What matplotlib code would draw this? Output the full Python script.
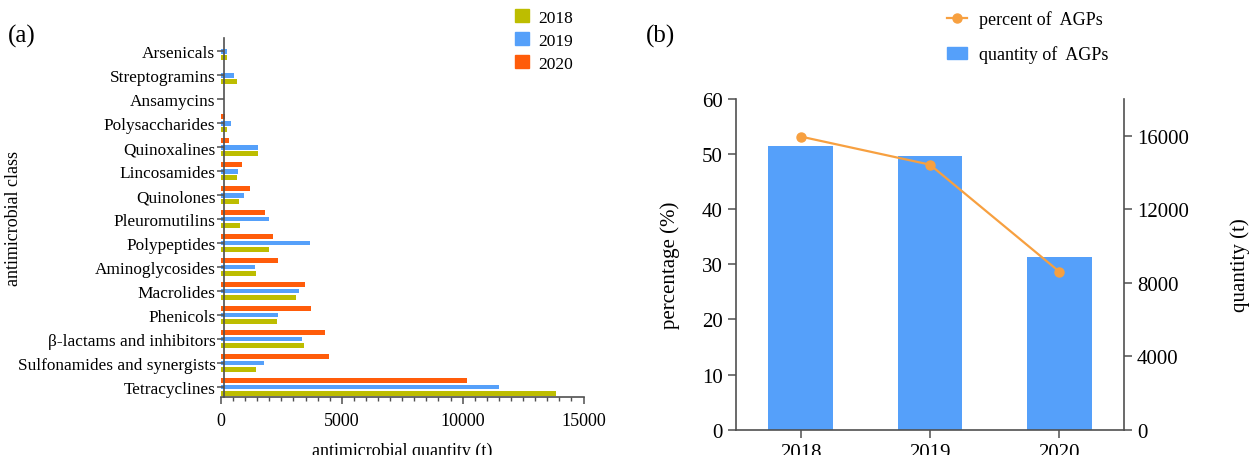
import numpy as np
import matplotlib.pyplot as plt
from matplotlib.patches import Patch

plt.rcParams['font.family'] = ['Liberation Serif', 'DejaVu Serif']

# panel (a): antimicrobial classes, bottom to top
classes = ['Tetracyclines', 'Sulfonamides and synergists', 'β-lactams and inhibitors',
           'Phenicols', 'Macrolides', 'Aminoglycosides', 'Polypeptides',
           'Pleuromutilins', 'Quinolones', 'Lincosamides', 'Quinoxalines',
           'Polysaccharides', 'Ansamycins', 'Streptogramins', 'Arsenicals']
q2018 = [13860, 1460, 3430, 2320, 3100, 1440, 1970, 810, 730, 660, 1540, 270, 0, 650, 270]
q2019 = [11490, 1790, 3340, 2350, 3230, 1410, 3690, 1970, 940, 700, 1520, 410, 0, 550, 260]
q2020 = [10180, 4470, 4300, 3720, 3480, 2380, 2140, 1840, 1190, 890, 330, 180, 0, 0, 0]
series_years = ['2018', '2019', '2020']

# panel (b): AGPs
agp_years = ['2018', '2019', '2020']
agp_percent = [53.2, 48.1, 28.7]
agp_quantity = [15420, 14880, 9380]

c2018 = '#BDBD00'
c2019 = '#55A0FA'
c2020 = '#FF5C0A'
cline = '#F7A040'
spine_c = '#505050'

fig = plt.figure(figsize=(12.55, 4.56), dpi=100)

# ---- (a)
ax = fig.add_axes([0.176, 0.127, 0.289, 0.787])
y = np.arange(len(classes))
off = 0.28
h = 0.2
ax.barh(y - off, q2018, height=h, color=c2018, label='2018')
ax.barh(y, q2019, height=h, color=c2019, label='2019')
ax.barh(y + off, q2020, height=h, color=c2020, label='2020')
ax.set_xlim(0, 15000)
ax.set_ylim(-0.42, 14.54)
ax.set_yticks(y)
ax.set_yticklabels(classes)
ax.set_xticks([0, 5000, 10000, 15000])
ax.set_xticks(np.arange(0, 15001, 500), minor=True)
ax.tick_params(axis='x', labelsize=13, length=5, width=1.1, color=spine_c, pad=6)
ax.tick_params(axis='x', which='minor', length=3, width=1.0, color=spine_c)
ax.tick_params(axis='y', labelsize=12.4, length=5, width=1.1, color=spine_c, pad=1)
for s in ['top', 'right']:
    ax.spines[s].set_visible(False)
for s in ['left', 'bottom']:
    ax.spines[s].set_color(spine_c)
    ax.spines[s].set_linewidth(1.2)
ax.spines['left'].set_position(('data', 120))
ax.set_xlabel('antimicrobial quantity (t)', fontsize=13, labelpad=9)
ax.set_ylabel('antimicrobial class', fontsize=13)
ax.yaxis.set_label_coords(-0.548, 0.5)

handles = [Patch(color=c2018), Patch(color=c2019), Patch(color=c2020)]
fig.legend(handles, series_years, loc='upper left', bbox_to_anchor=(0.398, 1.012),
           frameon=False, fontsize=12.5, handlelength=0.8, handleheight=0.8,
           handletextpad=0.55, labelspacing=0.36)
fig.text(0.006, 0.92, '(a)', fontsize=18, va='center')

# ---- (b)
ax2 = fig.add_axes([0.5865, 0.0555, 0.309, 0.725])
ax3 = ax2.twinx()
x = np.arange(len(agp_years))
ax3.bar(x, agp_quantity, width=0.5, color=c2019)
line, = ax2.plot(x, agp_percent, color=cline, lw=1.6, marker='o', ms=6.5)
ax2.set_zorder(ax3.get_zorder() + 1)
ax2.patch.set_visible(False)
ax2.set_xlim(-0.5, 2.5)
ax2.set_ylim(0, 60)
ax2.set_yticks(np.arange(0, 61, 10))
ax3.set_ylim(0, 18000)
ax3.set_yticks(np.arange(0, 16001, 4000))
ax2.set_xticks(x)
ax2.set_xticklabels(agp_years)
for a in (ax2, ax3):
    a.tick_params(labelsize=15, length=6, width=1.1, color=spine_c)
    for s in a.spines.values():
        s.set_color(spine_c)
        s.set_linewidth(1.2)
    a.spines['top'].set_visible(False)
ax2.spines['right'].set_visible(False)
ax3.spines['left'].set_visible(False)
ax3.spines['bottom'].set_visible(False)
ax2.set_ylabel('percentage (%)', fontsize=15, labelpad=16)
ax3.set_ylabel('quantity (t)', fontsize=15, labelpad=30)

fig.legend([line, Patch(color=c2019)], ['percent of  AGPs', 'quantity of  AGPs'],
           loc='upper left', bbox_to_anchor=(0.7416, 1.011), frameon=False,
           fontsize=13, handlelength=1.1, handleheight=0.6, handletextpad=0.67,
           labelspacing=0.95)
fig.text(0.515, 0.92, '(b)', fontsize=18, va='center')

fig.savefig('out.png', dpi=100)
